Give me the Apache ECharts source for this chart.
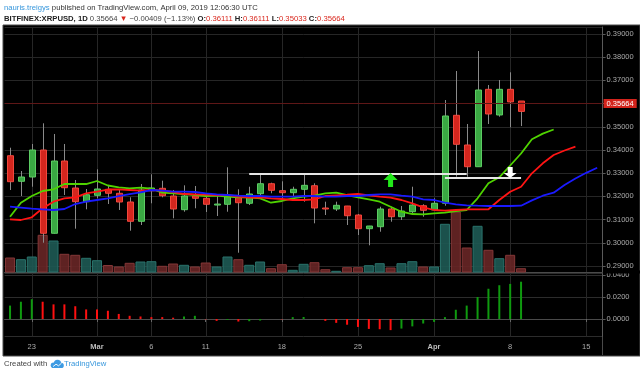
<!DOCTYPE html>
<html><head><meta charset="utf-8">
<script src="https://cdn.jsdelivr.net/npm/echarts@6/dist/echarts.min.js"></script>
<style>html,body{margin:0;padding:0;background:#fff}#c{width:640px;height:374px}</style>
</head><body><div id="c"></div><script>
const dates = ['Feb 21','Feb 22','Feb 23','Feb 24','Feb 25','Feb 26','Feb 27','Feb 28',
 'Mar 1','Mar 2','Mar 3','Mar 4','Mar 5','Mar 6','Mar 7','Mar 8','Mar 9','Mar 10','Mar 11','Mar 12',
 'Mar 13','Mar 14','Mar 15','Mar 16','Mar 17','Mar 18','Mar 19','Mar 20','Mar 21','Mar 22','Mar 23',
 'Mar 24','Mar 25','Mar 26','Mar 27','Mar 28','Mar 29','Mar 30','Mar 31',
 'Apr 1','Apr 2','Apr 3','Apr 4','Apr 5','Apr 6','Apr 7','Apr 8','Apr 9','Apr 10','Apr 11',
 'Apr 12','Apr 13','Apr 14','Apr 15','Apr 16'];
const tickDates = ['Feb 23','Mar 1','Mar 6','Mar 11','Mar 18','Mar 25','Apr 1','Apr 8','Apr 15'];
const tickLabels = ['23','Mar','6','11','18','25','Apr','8','15'];

const opens = [0.33754,0.32651,0.32836,0.34000,0.30410,0.33526,0.32362,0.31772,0.32047,0.32306,
 0.32134,0.31759,0.30927,0.32246,0.32349,0.32017,0.31427,0.32017,0.31918,0.31660,
 0.31660,0.31987,0.31703,0.32116,0.32547,0.32246,0.32160,0.32306,0.32461,0.31500,
 0.31457,0.31586,0.31198,0.30608,0.30694,0.31457,0.31125,0.31340,0.31599,0.31414,
 0.31703,0.35496,0.34216,0.33280,0.36616,0.35509,0.36616,0.36111];
const closes = [0.32634,0.32836,0.34000,0.30410,0.33526,0.32375,0.31772,0.32073,0.32319,0.32134,
 0.31759,0.30927,0.32276,0.32362,0.32030,0.31457,0.32017,0.31918,0.31660,0.31670,
 0.31987,0.31728,0.32103,0.32547,0.32263,0.32160,0.32306,0.32478,0.31500,0.31490,
 0.31616,0.31168,0.30608,0.30724,0.31457,0.31125,0.31371,0.31629,0.31401,0.31703,
 0.35466,0.34246,0.33280,0.36586,0.35552,0.36616,0.36073,0.35664];
const lows = [0.32276,0.32017,0.32418,0.30004,0.30400,0.32060,0.30608,0.31444,0.31918,0.31672,
 0.31414,0.30522,0.30767,0.31703,0.31961,0.31056,0.31340,0.31487,0.31328,0.31155,
 0.31340,0.29573,0.31629,0.32060,0.32134,0.31875,0.31987,0.31772,0.30840,0.31198,
 0.31371,0.30767,0.30336,0.29892,0.30478,0.30909,0.30983,0.31272,0.31125,0.31380,
 0.31599,0.32849,0.32849,0.33280,0.35121,0.35435,0.34978,0.35033];
const highs = [0.34099,0.33095,0.34259,0.35151,0.34690,0.34259,0.32707,0.32319,0.33168,0.32491,
 0.32319,0.31961,0.32534,0.32953,0.32677,0.32276,0.32478,0.32448,0.32060,0.32060,
 0.33254,0.32306,0.32418,0.32922,0.32590,0.32651,0.32418,0.32935,0.32565,0.31772,
 0.31772,0.31590,0.31241,0.30730,0.31556,0.31556,0.31586,0.32418,0.31660,0.31918,
 0.36155,0.37405,0.35121,0.38267,0.36802,0.37017,0.37349,0.36111];
const volumes = [15,13.3,16,37.7,32,18.7,17.7,14.7,12.3,7.5,
 6,9.7,11,11.3,6.7,9,7.7,6,10,6,
 16,13.3,7.7,11,4.3,8.3,2.7,8.7,10.3,3.3,
 1.7,5.3,5.3,7.3,9.3,5,9.3,11.3,6,6,
 48.7,61,25,46.7,22.7,14.3,17.7,4.3];
// Alligator lines (lips green, teeth red, jaw blue)
const lips = [0.31125,0.31728,0.32017,0.32233,0.32306,0.32534,0.32534,0.32534,0.32664,0.32470,
 0.32392,0.32349,0.32375,0.32332,0.32159,0.32134,0.32103,0.32060,0.32017,0.32030,
 0.31987,0.31961,0.31961,0.31918,0.31728,0.31802,0.31918,0.31987,0.32030,0.32134,
 0.32159,0.32060,0.31961,0.31875,0.31772,0.31556,0.31340,0.31241,0.31228,0.31272,
 0.31298,0.31371,0.31414,0.31918,0.32565,0.32823,0.33332,0.33849,0.34461,0.34707,0.34884];
const teeth = [0.31013,0.30983,0.31099,0.31487,0.31772,0.31918,0.31961,0.32134,0.32203,0.32297,
 0.32306,0.32276,0.32246,0.32276,0.32246,0.32190,0.32103,0.32090,0.32073,0.32060,
 0.32060,0.31987,0.31944,0.31961,0.31918,0.31888,0.31845,0.31845,0.31875,0.32017,
 0.32047,0.32073,0.32103,0.32047,0.31987,0.31944,0.31845,0.31703,0.31530,0.31414,
 0.31384,0.31414,0.31444,0.31444,0.31444,0.31845,0.32203,0.32418,0.32996,0.33427,
 0.33784,0.33978,0.34142];
const jaw = [0.31556,0.31513,0.31470,0.31444,0.31414,0.31457,0.31672,0.31772,0.31845,0.31918,
 0.32017,0.32103,0.32177,0.32276,0.32246,0.32203,0.32203,0.32190,0.32134,0.32090,
 0.32060,0.32030,0.32017,0.32017,0.31987,0.31987,0.31987,0.32017,0.32017,0.31987,
 0.31987,0.32017,0.32017,0.32060,0.32090,0.32090,0.32030,0.31987,0.31875,0.31845,
 0.31728,0.31659,0.31616,0.31599,0.31586,0.31586,0.31586,0.31599,0.31830,0.32030,
 0.32159,0.32491,0.32772,0.33017,0.33237];
// Awesome-oscillator style histogram
const ao = [0.0122,0.0157,0.0180,0.0157,0.0133,0.0133,0.0116,0.0087,0.0087,0.0075,
 0.0046,0.0029,0.0023,0.0017,0.0017,0.0012,0.0023,0.0029,-0.0003,-0.0017,
 -0.0009,-0.0023,-0.0020,-0.0014,0.0000,-0.0003,0.0017,0.0018,0.0000,-0.0017,
 -0.0035,-0.0052,-0.0072,-0.0090,-0.0093,-0.0101,-0.0087,-0.0067,-0.0041,-0.0026,
 0.0017,0.0084,0.0122,0.0200,0.0275,0.0307,0.0319,0.0339];
const lastPrice = 0.35664;
// drawings: [startDate, endDate, price]
const levelLines = [['Mar 15','Apr 4',0.32966],['Apr 2','Apr 9',0.32823]];
const upArrows = [['Mar 28',0.32707]];
const downArrows = [['Apr 8',0.33052]];

const FONT = 'Liberation Sans, Arial, sans-serif';
const G_BODY='#3aa843', G_EDGE='#5ccc63', R_BODY='#d4261e', R_EDGE='#f2473d', WICK='#8a8a8a';
const LBL='#ababab', GRIDC='#262626';

function renderCandle(params, api){
  const i = api.value(0), o = api.value(1), c = api.value(2), l = api.value(3), h = api.value(4);
  const po = api.coord([i,o]), pc = api.coord([i,c]), pl = api.coord([i,l]), ph = api.coord([i,h]);
  const cx = Math.round(po[0]);
  const up = c >= o;
  const top = Math.min(po[1],pc[1]), bot = Math.max(po[1],pc[1]);
  return {type:'group', children:[
    {type:'line', shape:{x1:cx+0.5,y1:ph[1],x2:cx+0.5,y2:pl[1]}, style:{stroke:WICK,lineWidth:1}},
    {type:'rect', shape:{x:cx-2.5,y:top,width:6,height:Math.max(bot-top,1)},
     style:{fill:up?G_BODY:R_BODY, stroke:up?G_EDGE:R_EDGE, lineWidth:1}}
  ]};
}
function renderArrow(params, api){
  const p = api.coord([api.value(0), api.value(1)]);
  const up = api.value(2) > 0;
  const x = p[0], y = p[1];
  const pts = up
    ? [[x,y-7],[x+7,y],[x+2.5,y],[x+2.5,y+7],[x-2.5,y+7],[x-2.5,y],[x-7,y]]
    : [[x-2.5,y-5],[x+2.5,y-5],[x+2.5,y+1],[x+6.5,y+1],[x,y+6],[x-6.5,y+1],[x-2.5,y+1]];
  return {type:'polygon', shape:{points:pts}, style:{fill: up ? '#22e81a' : '#ffffff'}};
}
function renderVGrid(params, api){
  const cs = params.coordSys;
  const x = Math.round(api.coord([api.value(0), api.value(1)])[0]) + 0.5;
  return {type:'line', shape:{x1:x, y1:cs.y, x2:x, y2:cs.y+cs.height}, style:{stroke:GRIDC, lineWidth:1}};
}

const candleData = opens.map((o,i)=>[i,o,closes[i],lows[i],highs[i]]);
const volData = volumes.map((v,i)=>({value:v, itemStyle: closes[i]>=opens[i]
  ? {color:'rgba(30,90,84,0.9)', borderColor:'#2a736c', borderWidth:1}
  : {color:'rgba(104,38,38,0.9)', borderColor:'#843737', borderWidth:1}}));
const aoData = ao.map((v,i)=>({value:v, itemStyle:{color:(i===0||v>ao[i-1])?'#0f9a0f':'#ff1010'}}));
const arrowData = upArrows.map(a=>[dates.indexOf(a[0]),a[1],1]).concat(downArrows.map(a=>[dates.indexOf(a[0]),a[1],-1]));
const vGridMain = tickDates.map(d=>[dates.indexOf(d), 0.33]);
const vGridSub = tickDates.map(d=>[dates.indexOf(d), 0]);

const tickFilter = (idx, val) => tickDates.indexOf(val) >= 0;

const gridL = 4.6, gridW = 598;
const HF = 7.7;
const NOEMPH = {disabled:true};
const option = {
  animation:false,
  backgroundColor:'#ffffff',
  textStyle:{fontFamily:FONT},
  grid:[
    {left:gridL, width:gridW, top:27, height:245.5},
    {left:gridL, width:gridW, top:172.5, height:100},
    {left:gridL, width:gridW, top:273.5, height:63}
  ],
  xAxis:[
    {type:'category', gridIndex:0, data:dates, boundaryGap:true,
     axisLine:{show:true, lineStyle:{color:'#4a4a4a'}}, axisTick:{show:false}, axisLabel:{show:false}, splitLine:{show:false}},
    {type:'category', gridIndex:1, data:dates, boundaryGap:true, show:false},
    {type:'category', gridIndex:2, data:dates, boundaryGap:true,
     axisLine:{show:true, lineStyle:{color:'#4a4a4a'}},
     axisTick:{show:true, alignWithLabel:true, interval:tickFilter, length:3, lineStyle:{color:'#666'}},
     axisLabel:{show:true, interval:tickFilter, color:LBL, fontSize:7.5, margin:6, fontFamily:FONT,
       formatter:(v)=>{const k=tickDates.indexOf(v); const t=tickLabels[k]; return (t==='Mar'||t==='Apr')?'{b|'+t+'}':t;},
       rich:{b:{fontWeight:'bold', fontSize:7.5, color:'#bdbdbd', fontFamily:FONT}}},
     splitLine:{show:false}}
  ],
  yAxis:[
    {type:'value', gridIndex:0, position:'right', min:0.2872, max:0.39302, splitNumber:10,
     axisLine:{show:true, lineStyle:{color:'#5a5a5a'}}, axisTick:{show:true, length:3, lineStyle:{color:'#5a5a5a'}},
     axisLabel:{color:LBL, fontSize:7.5, margin:4, fontFamily:FONT, formatter:v=>v.toFixed(5), showMinLabel:false, showMaxLabel:false},
     splitLine:{show:true, lineStyle:{color:GRIDC}}},
    {type:'value', gridIndex:1, min:0, max:100, show:false},
    {type:'value', gridIndex:2, position:'right', min:-0.0159, max:0.04136, splitNumber:3,
     axisLine:{show:true, lineStyle:{color:'#5a5a5a'}}, axisTick:{show:true, length:3, lineStyle:{color:'#5a5a5a'}},
     axisLabel:{color:LBL, fontSize:7.5, margin:4, fontFamily:FONT, formatter:v=>v.toFixed(4), showMinLabel:false, showMaxLabel:false},
     splitLine:{show:true, lineStyle:{color:'#2c2c2c'}}}
  ],
  series:[
    {type:'custom', xAxisIndex:0, yAxisIndex:0, renderItem:renderVGrid, data:vGridMain, encode:{x:0,y:1}, z:0, silent:true, clip:false},
    {type:'custom', xAxisIndex:2, yAxisIndex:2, renderItem:renderVGrid, data:vGridSub, encode:{x:0,y:1}, z:0, silent:true, clip:false},
    {type:'bar', xAxisIndex:1, yAxisIndex:1, data:volData, barWidth:10, z:1, silent:true, emphasis:NOEMPH},
    {type:'line', xAxisIndex:0, yAxisIndex:0, data:[], z:1, silent:true, emphasis:NOEMPH,
     markLine:{silent:true, symbol:'none', emphasis:NOEMPH,
       lineStyle:{color:'#5e1717', width:1, type:'solid'},
       label:{show:true, position:'end', distance:1, formatter:lastPrice.toFixed(5), color:'#ffffff',
              backgroundColor:'#d3241c', padding:[1,3,0,3], fontSize:7.5, fontFamily:FONT},
       data:[{yAxis:lastPrice}]}},
    {type:'custom', xAxisIndex:0, yAxisIndex:0, renderItem:renderCandle, data:candleData,
     encode:{x:0, y:[1,2,3,4]}, z:3, clip:true, silent:true, emphasis:NOEMPH},
    {type:'line', name:'Lips', xAxisIndex:0, yAxisIndex:0, data:lips, showSymbol:false, symbol:'none', z:4, silent:true, emphasis:NOEMPH,
     lineStyle:{color:'#4fd300', width:1.8}},
    {type:'line', name:'Teeth', xAxisIndex:0, yAxisIndex:0, data:teeth, showSymbol:false, symbol:'none', z:4, silent:true, emphasis:NOEMPH,
     lineStyle:{color:'#ff1414', width:1.8}},
    {type:'line', name:'Jaw', xAxisIndex:0, yAxisIndex:0, data:jaw, showSymbol:false, symbol:'none', z:4, silent:true, emphasis:NOEMPH,
     lineStyle:{color:'#1a1aff', width:1.8}},
    {type:'line', xAxisIndex:0, yAxisIndex:0, data:[], z:5, silent:true, emphasis:NOEMPH,
     markLine:{silent:true, symbol:'none', label:{show:false}, emphasis:NOEMPH, lineStyle:{color:'#e6e6e6', width:2, type:'solid'},
       data: levelLines.map(l=>[{coord:[l[0],l[2]]},{coord:[l[1],l[2]]}])}},
    {type:'custom', xAxisIndex:0, yAxisIndex:0, renderItem:renderArrow, data:arrowData,
     encode:{x:0, y:1}, z:6, silent:true, emphasis:NOEMPH},
    {type:'bar', xAxisIndex:2, yAxisIndex:2, data:aoData, barWidth:2, z:3, silent:true, emphasis:NOEMPH}
  ],
  graphic:[
    {type:'rect', z:-100, shape:{x:3, y:25, width:637, height:331}, style:{fill:'#000000', stroke:'#4a4a4a', lineWidth:1}},
    {type:'line', z:-50, shape:{x1:602.5,y1:336.5,x2:602.5,y2:355}, style:{stroke:'#4a4a4a', lineWidth:1}},
    {type:'rect', z:100, shape:{x:604, y:270.5, width:36, height:3}, style:{fill:'#000000'}},
    {type:'text', x:4, y:7.5, style:{text:'{u|nauris.treigys} published on TradingView.com, April 09, 2019 12:06:30 UTC',
      fill:'#333', fontSize:HF, fontFamily:FONT, verticalAlign:'middle',
      rich:{u:{fill:'#3797dc', fontSize:HF, fontFamily:FONT}}}},
    {type:'text', x:4, y:18.5, style:{text:'{b|BITFINEX:XRPUSD, 1D} {n|'+lastPrice.toFixed(5)+'} {r|▼} {n|−0.00409 (−1.13%)} {b|O:}{r|0.36111} {b|H:}{r|0.36111} {b|L:}{r|0.35033} {b|C:}{r|0.35664}',
      fill:'#333', fontSize:HF, fontFamily:FONT, verticalAlign:'middle',
      rich:{b:{fill:'#222', fontWeight:'bold', fontSize:HF, fontFamily:FONT}, n:{fill:'#444', fontSize:HF, fontFamily:FONT}, r:{fill:'#d9261c', fontSize:HF, fontFamily:FONT}}}},
    {type:'text', x:4, y:364, style:{text:'Created with', fill:'#444', fontSize:7.7, fontFamily:FONT, verticalAlign:'middle'}},
    {type:'group', x:50, y:359, children:[
      {type:'circle', shape:{cx:3.5, cy:6.2, r:2.8}, style:{fill:'#3d9be3'}},
      {type:'circle', shape:{cx:7.5, cy:4.4, r:3.6}, style:{fill:'#3d9be3'}},
      {type:'circle', shape:{cx:11.2, cy:6.4, r:2.6}, style:{fill:'#3d9be3'}},
      {type:'rect', shape:{x:3.5, y:6.2, width:7.7, height:2.8}, style:{fill:'#3d9be3'}},
      {type:'polyline', shape:{points:[[3,7.6],[6,5.2],[8.5,6.8],[11.5,4.2]]}, style:{stroke:'#ffffff', lineWidth:0.9, fill:null}}
    ]},
    {type:'text', x:64, y:364, style:{text:'TradingView', fill:'#3797dc', fontSize:7.7, fontFamily:FONT, verticalAlign:'middle'}}
  ]
};
const chart = echarts.init(document.getElementById('c'), null, {renderer:'canvas'});
chart.setOption(option);
</script></body></html>
